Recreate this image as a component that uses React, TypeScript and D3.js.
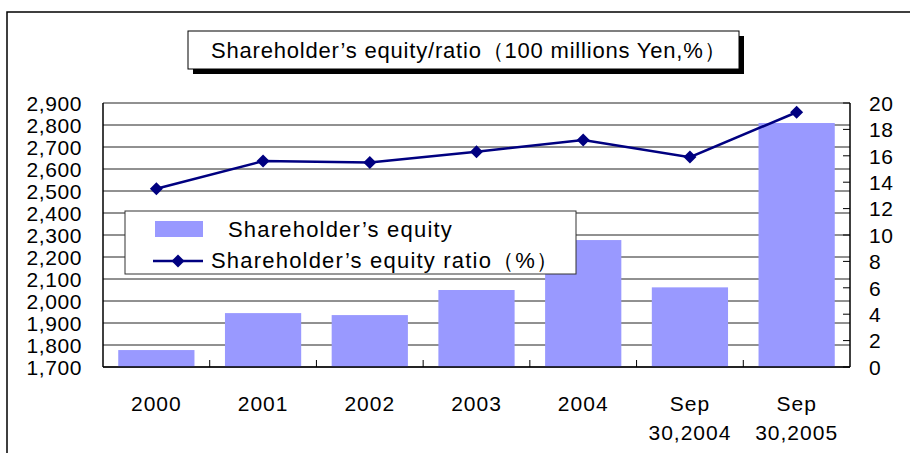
import React from "react";
import * as d3 from "d3";

const categories = ["2000", "2001", "2002", "2003", "2004", "Sep\n30,2004", "Sep\n30,2005"];
const equity = [1777, 1945, 1936, 2050, 2277, 2062, 2809];
const ratio = [13.5, 15.6, 15.5, 16.3, 17.2, 15.9, 19.3];
const leftTicks = d3.range(1700, 2901, 100);
const rightTicks = d3.range(0, 21, 2);
const title = "Shareholder\u2019s equity/ratio\uFF08100 millions Yen,%\uFF09";
const legendBar = "Shareholder\u2019s equity";
const legendLine = "Shareholder\u2019s equity ratio\uFF08%\uFF09";

const W = 910, H = 453;
const plot = { left: 103, right: 850, top: 103, bottom: 367 };
const FONT = "'Liberation Sans', Arial, sans-serif";
const DIAMOND = "M0,-6.5L6.5,0L0,6.5L-6.5,0Z";

export default function App() {
  const x = d3.scaleBand<string>().domain(categories).range([plot.left, plot.right]).paddingInner(0.4 / 1.4).paddingOuter(0.2 / 1.4);
  const xc = d3.scaleBand<string>().domain(categories).range([plot.left, plot.right]);
  const yL = d3.scaleLinear().domain([1700, 2900]).range([plot.bottom, plot.top]);
  const yR = d3.scaleLinear().domain([0, 20]).range([plot.bottom, plot.top]);
  const cx = (c: string) => xc(c)! + xc.bandwidth() / 2;
  const line = d3.line<number>().x((_, i) => cx(categories[i])).y((d) => yR(d));

  return (
    <svg width={W} height={H} style={{ position: "absolute", left: 0, top: 0, background: "#fff" }} fontFamily={FONT}>
      {/* outer border */}
      <rect x={7} y={12} width={W} height={H} fill="none" stroke="#000" strokeWidth={1.5} />
      {/* title */}
      <rect x={193} y={36} width={551} height={38} fill="#000" />
      <rect x={188} y={31} width={551} height={38} fill="#fff" stroke="#000" strokeWidth={1} />
      <text x={211} y={58} fontSize={22} letterSpacing={0.8} fill="#000">{title}</text>

      {/* gridlines */}
      {leftTicks.map((t) => (
        <line key={"g" + t} x1={plot.left} x2={plot.right} y1={yL(t)} y2={yL(t)} stroke="#222" strokeWidth={1} />
      ))}
      {/* bars */}
      {categories.map((c, i) => (
        <rect key={"b" + c} x={x(c)} y={yL(equity[i])} width={x.bandwidth()} height={plot.bottom - yL(equity[i])} fill="#9999FF" />
      ))}
      {/* axes */}
      <line x1={plot.left} x2={plot.left} y1={plot.top} y2={plot.bottom} stroke="#000" strokeWidth={1.5} />
      <line x1={plot.right} x2={plot.right} y1={plot.top} y2={plot.bottom} stroke="#000" strokeWidth={1.5} />
      <line x1={plot.left} x2={plot.right} y1={plot.bottom} y2={plot.bottom} stroke="#000" strokeWidth={1.5} />
      {leftTicks.map((t) => (
        <text key={"l" + t} x={82} y={yL(t)} dy="0.37em" textAnchor="end" fontSize={21} letterSpacing={0.6} fill="#000">{d3.format(",")(t)}</text>
      ))}
      {rightTicks.map((t) => (
        <g key={"r" + t}>
          <line x1={plot.right - 7} x2={plot.right} y1={yR(t)} y2={yR(t)} stroke="#000" strokeWidth={1} />
          <text x={869} y={yR(t)} dy="0.37em" fontSize={21} letterSpacing={0.6} fill="#000">{t}</text>
        </g>
      ))}
      {categories.slice(1).map((c) => (
        <line key={"xt" + c} x1={xc(c)} x2={xc(c)} y1={plot.bottom - 7} y2={plot.bottom} stroke="#000" strokeWidth={1} />
      ))}
      {categories.map((c) =>
        c.split("\n").map((s, k) => (
          <text key={"x" + c + k} x={cx(c)} y={411 + k * 29} textAnchor="middle" fontSize={21} letterSpacing={1} fill="#000">{s}</text>
        ))
      )}
      {/* ratio line */}
      <path d={line(ratio)!} fill="none" stroke="#000080" strokeWidth={2.5} />
      {ratio.map((r, i) => (
        <path key={"m" + i} d={DIAMOND} transform={`translate(${cx(categories[i])},${yR(r)})`} fill="#000080" />
      ))}
      {/* legend */}
      <rect x={125} y={211} width={451} height={63} fill="#fff" stroke="#333" strokeWidth={1} />
      <rect x={155} y={221} width={48} height={16} fill="#9999FF" />
      <text x={228} y={237} fontSize={22} letterSpacing={1.2} fill="#000">{legendBar}</text>
      <line x1={153} x2={203} y1={261} y2={261} stroke="#000080" strokeWidth={2.5} />
      <path d={DIAMOND} transform="translate(178,261)" fill="#000080" />
      <text x={211} y={268} fontSize={22} letterSpacing={1.2} fill="#000">{legendLine}</text>
    </svg>
  );
}
